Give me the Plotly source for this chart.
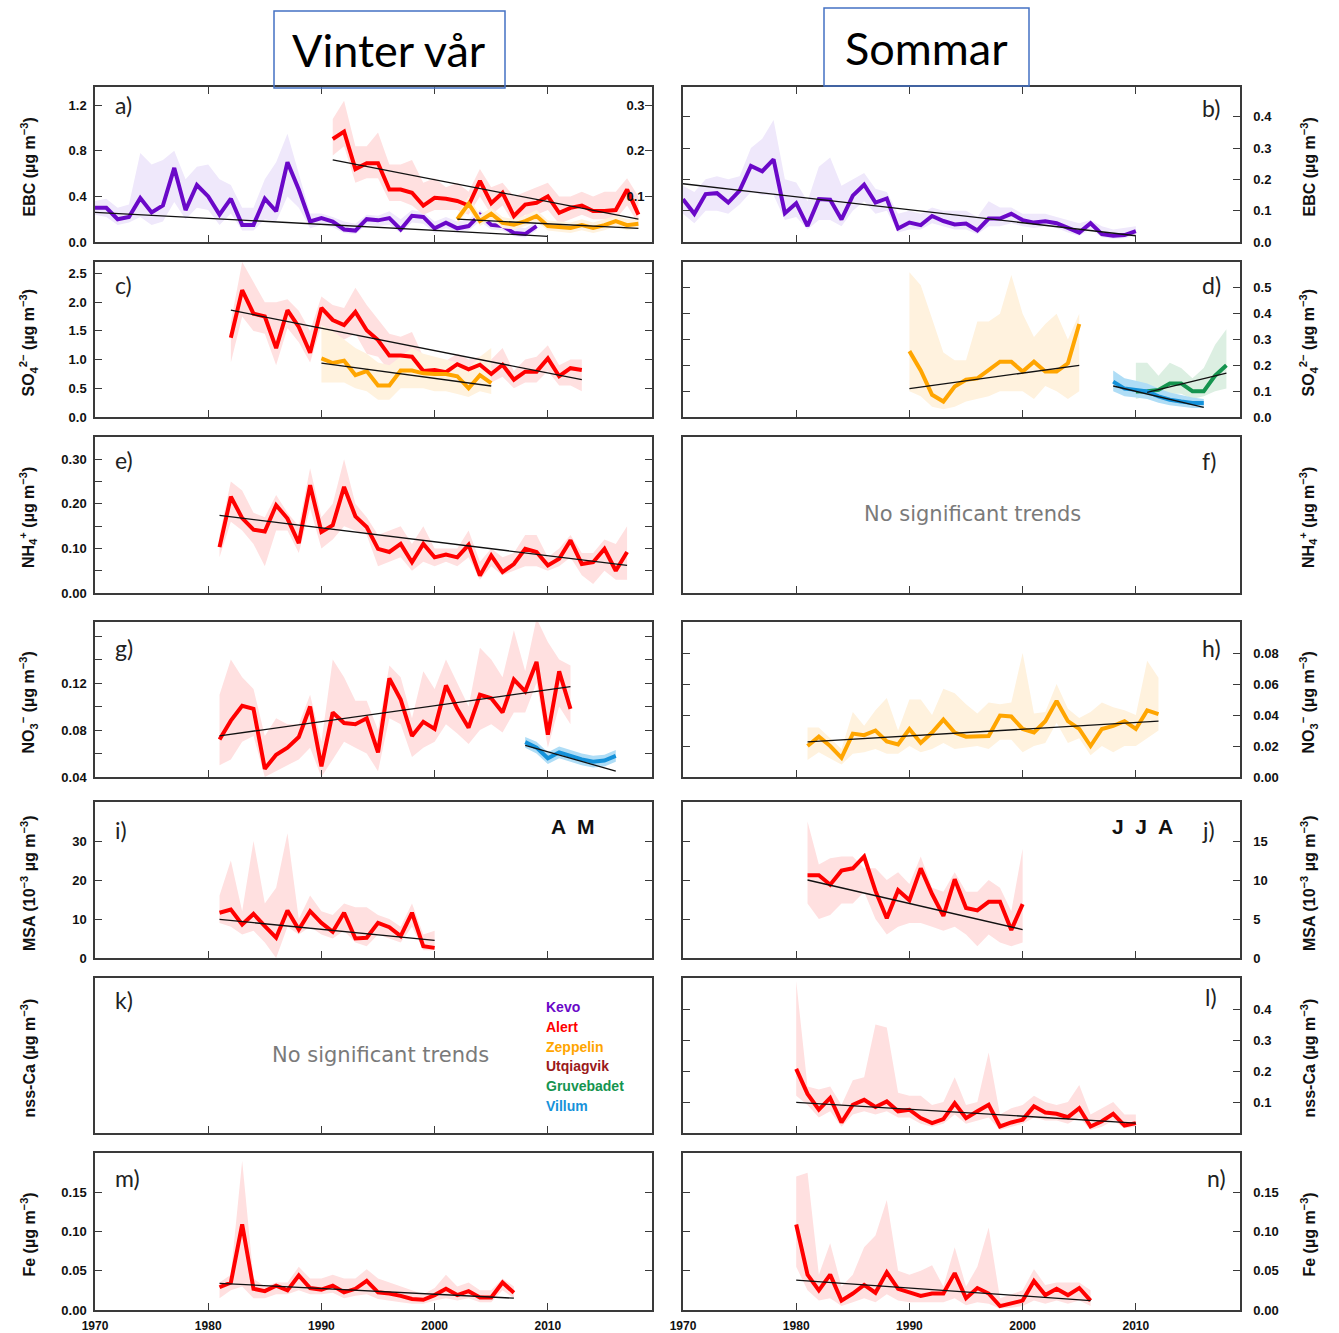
import plotly.graph_objects as go

W, H = 1339, 1333

# ================= DATA =================
# (a) EBC, winter/spring
kevo_ebc_win_start = 1970
kevo_ebc_win = [0.30,0.30,0.20,0.22,0.385,0.26,0.32,0.65,0.28,0.50,
                0.40,0.24,0.38,0.15,0.15,0.38,0.27,0.70,0.46,0.18,
                0.21,0.18,0.11,0.10,0.20,0.19,0.21,0.11,0.23,0.22,
                0.12,0.17,0.12,0.14,0.24,0.15,0.14,0.08,0.07,0.14]
kevo_ebc_win_hi = [0.36,0.38,0.30,0.33,0.78,0.68,0.72,0.80,0.55,0.66,
                   0.68,0.55,0.50,0.30,0.30,0.55,0.70,0.95,0.60,0.25,
                   0.25,0.22,0.18,0.16,0.24,0.23,0.27,0.20,0.28,0.26,
                   0.18,0.22,0.18,0.20,0.28,0.20,0.20,0.14,0.12,0.18]
kevo_ebc_win_lo = [0.24,0.22,0.15,0.17,0.22,0.15,0.18,0.35,0.20,0.30,
                   0.28,0.15,0.25,0.10,0.10,0.20,0.18,0.40,0.30,0.12,
                   0.15,0.13,0.08,0.07,0.15,0.14,0.15,0.08,0.17,0.16,
                   0.08,0.12,0.09,0.10,0.18,0.11,0.10,0.05,0.04,0.10]
kevo_ebc_win_trend = [0.26, 0.05]
kevo_ebc_win_trend_years = [1970, 2010]

alert_ebc_win_start = 1991
alert_ebc_win = [0.226,0.242,0.16,0.173,0.173,0.115,0.115,0.108,0.08,0.097,
                 0.095,0.09,0.08,0.134,0.085,0.108,0.057,0.082,0.086,0.10,
                 0.064,0.075,0.08,0.068,0.068,0.07,0.115,0.06]
alert_ebc_win_hi = [0.27,0.31,0.21,0.21,0.24,0.17,0.17,0.18,0.13,0.14,
                    0.12,0.13,0.11,0.16,0.12,0.13,0.10,0.11,0.12,0.13,
                    0.10,0.10,0.11,0.10,0.11,0.11,0.14,0.10]
alert_ebc_win_lo = [0.19,0.21,0.13,0.14,0.14,0.09,0.09,0.08,0.06,0.07,
                    0.07,0.07,0.06,0.10,0.06,0.08,0.04,0.06,0.06,0.07,
                    0.04,0.05,0.06,0.05,0.05,0.05,0.08,0.04]
alert_ebc_win_trend = [0.18, 0.05]
alert_ebc_win_trend_years = [1991, 2018]

zep_ebc_win_start = 2002
zep_ebc_win = [0.05,0.084,0.046,0.062,0.042,0.038,0.046,0.057,0.035,0.033,
               0.031,0.037,0.031,0.037,0.046,0.037,0.04]
zep_ebc_win_hi = [0.06,0.10,0.06,0.075,0.055,0.05,0.058,0.07,0.047,0.045,
                  0.043,0.05,0.043,0.05,0.058,0.05,0.052]
zep_ebc_win_lo = [0.04,0.07,0.035,0.05,0.03,0.028,0.035,0.045,0.025,0.022,
                  0.02,0.026,0.02,0.026,0.035,0.026,0.03]
zep_ebc_win_trend = [0.05, 0.03]
zep_ebc_win_trend_years = [2002, 2018]

# (b) EBC, summer
kevo_ebc_sum_start = 1970
kevo_ebc_sum = [0.137,0.09,0.153,0.156,0.126,0.164,0.243,0.226,0.264,0.092,
                0.124,0.051,0.137,0.135,0.072,0.148,0.183,0.126,0.139,0.043,
                0.062,0.054,0.083,0.067,0.056,0.059,0.037,0.075,0.075,0.09,
                0.07,0.062,0.066,0.06,0.045,0.03,0.06,0.025,0.02,0.022,
                0.035]
kevo_ebc_sum_hi = [0.18,0.16,0.20,0.21,0.20,0.21,0.30,0.33,0.39,0.20,
                   0.19,0.13,0.24,0.27,0.18,0.20,0.22,0.17,0.16,0.09,
                   0.10,0.09,0.11,0.10,0.10,0.10,0.08,0.13,0.11,0.11,
                   0.09,0.09,0.09,0.08,0.07,0.06,0.07,0.05,0.04,0.045,
                   0.05]
kevo_ebc_sum_lo = [0.09,0.06,0.10,0.10,0.09,0.12,0.16,0.15,0.15,0.07,
                   0.08,0.04,0.07,0.07,0.05,0.10,0.13,0.09,0.10,0.03,
                   0.04,0.04,0.06,0.05,0.04,0.04,0.025,0.05,0.05,0.06,
                   0.05,0.045,0.05,0.045,0.03,0.02,0.04,0.015,0.01,0.012,
                   0.02]
kevo_ebc_sum_trend = [0.186, 0.02]
kevo_ebc_sum_trend_years = [1970, 2010]

# (c) SO4, winter/spring
alert_so4_win_start = 1982
alert_so4_win = [1.38,2.21,1.80,1.75,1.20,1.86,1.57,1.12,1.90,1.69,
                 1.60,1.83,1.51,1.34,1.07,1.07,1.05,0.80,0.82,0.78,
                 0.92,0.83,0.91,0.75,0.91,0.65,0.79,0.79,1.02,0.71,
                 0.85,0.82]
alert_so4_win_hi = [1.65,2.70,2.35,2.00,2.00,2.05,1.85,1.50,2.10,1.95,
                    1.90,2.25,1.95,1.70,1.45,1.40,1.48,1.05,1.00,0.98,
                    1.10,1.00,1.05,1.00,1.20,0.80,1.00,1.05,1.25,0.90,
                    1.00,1.00]
alert_so4_win_lo = [0.95,1.75,1.50,1.45,0.90,1.55,1.30,0.95,1.60,1.45,
                    1.35,1.45,1.10,1.05,0.80,0.85,0.75,0.62,0.65,0.62,
                    0.75,0.68,0.75,0.60,0.70,0.50,0.60,0.60,0.80,0.55,
                    0.55,0.45]
alert_so4_win_trend = [1.86, 0.65]
alert_so4_win_trend_years = [1982, 2013]

zep_so4_win_start = 1990
zep_so4_win = [1.02,0.94,0.98,0.73,0.80,0.55,0.55,0.81,0.81,0.76,
               0.75,0.75,0.71,0.50,0.73,0.59]
zep_so4_win_hi = [1.60,1.50,1.35,1.20,1.10,0.95,0.90,1.05,1.20,1.10,
                  1.05,1.00,0.95,0.85,1.05,1.20]
zep_so4_win_lo = [0.60,0.60,0.60,0.50,0.45,0.30,0.30,0.50,0.50,0.50,
                  0.45,0.45,0.40,0.35,0.45,0.40]
zep_so4_win_trend = [0.94, 0.54]
zep_so4_win_trend_years = [1990, 2005]

# (d) SO4, summer
zep_so4_sum_start = 1990
zep_so4_sum = [0.255,0.18,0.086,0.06,0.118,0.144,0.15,0.18,0.214,0.214,
               0.176,0.214,0.176,0.176,0.208,0.36]
zep_so4_sum_hi = [0.56,0.51,0.38,0.25,0.22,0.22,0.37,0.37,0.40,0.55,
                  0.40,0.31,0.36,0.40,0.30,0.40]
zep_so4_sum_lo = [0.10,0.08,0.04,0.03,0.04,0.06,0.07,0.08,0.10,0.10,
                  0.10,0.07,0.12,0.10,0.07,0.10]
zep_so4_sum_trend = [0.11, 0.20]
zep_so4_sum_trend_years = [1990, 2005]

villum_so4_sum_start = 2008
villum_so4_sum = [0.137,0.11,0.105,0.099,0.08,0.067,0.06,0.054,0.054]
villum_so4_sum_hi = [0.18,0.15,0.14,0.13,0.11,0.095,0.085,0.075,0.07]
villum_so4_sum_lo = [0.10,0.08,0.075,0.07,0.055,0.045,0.04,0.035,0.035]
villum_so4_sum_trend = [0.12, 0.037]
villum_so4_sum_trend_years = [2008, 2016]

gruv_so4_sum_start = 2010
gruv_so4_sum = [0.099,0.10,0.105,0.13,0.13,0.10,0.10,0.16,0.20]
gruv_so4_sum_hi = [0.21,0.21,0.16,0.21,0.19,0.15,0.19,0.28,0.34]
gruv_so4_sum_lo = [0.07,0.08,0.07,0.09,0.09,0.07,0.08,0.10,0.11]
gruv_so4_sum_trend = [0.095, 0.17]
gruv_so4_sum_trend_years = [2011, 2018]

# (e) NH4, winter/spring
alert_nh4_win_start = 1981
alert_nh4_win = [0.103,0.216,0.168,0.142,0.138,0.197,0.167,0.112,0.242,0.137,
                 0.152,0.238,0.172,0.148,0.099,0.092,0.11,0.069,0.11,0.08,
                 0.086,0.08,0.108,0.039,0.084,0.047,0.065,0.099,0.092,0.062,
                 0.077,0.118,0.065,0.069,0.099,0.05,0.092]
alert_nh4_win_hi = [0.13,0.25,0.23,0.18,0.17,0.22,0.18,0.15,0.28,0.17,
                    0.20,0.30,0.20,0.17,0.13,0.14,0.15,0.11,0.15,0.10,
                    0.10,0.10,0.14,0.07,0.10,0.08,0.09,0.13,0.13,0.08,
                    0.10,0.13,0.09,0.09,0.12,0.11,0.15]
alert_nh4_win_lo = [0.08,0.16,0.14,0.11,0.06,0.14,0.14,0.09,0.19,0.10,
                    0.12,0.15,0.14,0.13,0.06,0.07,0.08,0.05,0.07,0.06,
                    0.07,0.06,0.08,0.03,0.06,0.04,0.05,0.06,0.06,0.05,
                    0.06,0.08,0.04,0.02,0.05,0.03,0.03]
alert_nh4_win_trend = [0.174, 0.062]
alert_nh4_win_trend_years = [1981, 2017]

# (g) NO3, winter/spring
alert_no3_win_start = 1981
alert_no3_win = [0.072,0.088,0.1006,0.098,0.047,0.059,0.065,0.074,0.10,0.049,
                 0.095,0.086,0.085,0.09,0.061,0.124,0.106,0.075,0.087,0.081,
                 0.118,0.098,0.082,0.110,0.107,0.095,0.123,0.113,0.138,0.076,
                 0.13,0.098]
alert_no3_win_hi = [0.11,0.14,0.125,0.115,0.075,0.09,0.085,0.085,0.11,0.07,
                    0.14,0.125,0.105,0.105,0.08,0.135,0.125,0.09,0.13,0.115,
                    0.14,0.12,0.10,0.15,0.14,0.125,0.165,0.13,0.175,0.155,
                    0.14,0.135]
alert_no3_win_lo = [0.05,0.055,0.07,0.075,0.04,0.045,0.05,0.055,0.065,0.04,
                    0.055,0.07,0.065,0.06,0.045,0.09,0.085,0.057,0.065,0.07,
                    0.085,0.077,0.068,0.08,0.085,0.078,0.095,0.095,0.12,0.065,
                    0.10,0.085]
alert_no3_win_trend = [0.075, 0.117]
alert_no3_win_trend_years = [1981, 2012]

villum_no3_win_start = 2008
villum_no3_win = [0.0697,0.065,0.056,0.061,0.058,0.055,0.053,0.054,0.058]
villum_no3_win_hi = [0.074,0.07,0.061,0.066,0.063,0.06,0.058,0.059,0.063]
villum_no3_win_lo = [0.065,0.06,0.051,0.056,0.053,0.05,0.048,0.049,0.053]
villum_no3_win_trend = [0.067, 0.045]
villum_no3_win_trend_years = [2008, 2016]

# (h) NO3, summer
zep_no3_sum_start = 1981
zep_no3_sum = [0.02,0.026,0.02,0.0124,0.028,0.027,0.03,0.023,0.021,0.031,
               0.022,0.0287,0.037,0.0287,0.026,0.026,0.0265,0.0396,0.039,0.031,
               0.0287,0.036,0.049,0.036,0.031,0.02,0.031,0.033,0.036,0.031,
               0.043,0.0406]
zep_no3_sum_hi = [0.032,0.032,0.025,0.018,0.042,0.033,0.043,0.051,0.03,0.05,
                  0.05,0.04,0.057,0.054,0.047,0.041,0.048,0.047,0.048,0.08,
                  0.041,0.042,0.06,0.044,0.038,0.042,0.048,0.045,0.043,0.04,
                  0.075,0.064]
zep_no3_sum_lo = [0.011,0.016,0.012,0.008,0.015,0.016,0.018,0.015,0.015,0.02,
                  0.016,0.018,0.022,0.018,0.019,0.02,0.018,0.024,0.024,0.016,
                  0.02,0.022,0.035,0.022,0.025,0.014,0.02,0.016,0.02,0.02,
                  0.025,0.03]
zep_no3_sum_trend = [0.0226, 0.036]
zep_no3_sum_trend_years = [1981, 2012]

# (i) MSA, winter/spring (AM)
alert_msa_win_start = 1981
alert_msa_win = [11.6,12.4,8.6,11.3,8.2,5.2,12.2,7.3,12.0,9.0,
                 6.7,11.6,5.0,5.2,9.0,7.9,5.6,11.6,3.0,2.6]
alert_msa_win_hi = [16,25,12,30,14,18,32,10,16,12,
                    11,14,13,13,11,10,8,14,6,7]
alert_msa_win_lo = [9,8,6,7,4,0,8,6,8,6,
                    5,7,4,3,6,5,4,8,2,2]
alert_msa_win_trend = [9.9, 4.5]
alert_msa_win_trend_years = [1981, 2000]

# (j) MSA, summer (JJA)
alert_msa_sum_start = 1981
alert_msa_sum = [10.6,10.6,9.4,11.2,11.5,13.0,8.6,5.1,8.7,7.4,
                 11.5,8.2,5.4,10.1,6.4,6.1,7.2,7.2,3.6,6.9]
alert_msa_sum_hi = [17.5,12,12.8,13,13,11.5,11.5,10,11,9.5,
                    13,9,8.5,11,8.5,8.5,10,9,6,14]
alert_msa_sum_lo = [7,5,5.5,7,7,8.5,5,3,4,4.5,
                    4.5,4,3.5,4,3,1.5,3,2,1.5,2]
alert_msa_sum_trend = [10.0, 3.65]
alert_msa_sum_trend_years = [1981, 2000]

# (l) nss-Ca, summer
alert_ca_sum_start = 1980
alert_ca_sum = [0.207,0.126,0.075,0.113,0.034,0.091,0.107,0.084,0.102,0.07,
                0.075,0.048,0.032,0.045,0.096,0.048,0.07,0.091,0.021,0.034,
                0.043,0.086,0.066,0.062,0.051,0.08,0.021,0.038,0.062,0.024,
                0.032]
alert_ca_sum_hi = [0.49,0.15,0.14,0.15,0.09,0.17,0.18,0.35,0.34,0.13,
                   0.12,0.12,0.09,0.10,0.18,0.09,0.10,0.26,0.06,0.08,
                   0.09,0.12,0.10,0.09,0.10,0.155,0.06,0.08,0.10,0.06,
                   0.06]
alert_ca_sum_lo = [0.12,0.09,0.05,0.07,0.02,0.06,0.07,0.06,0.07,0.05,
                   0.05,0.03,0.02,0.03,0.06,0.03,0.04,0.05,0.01,0.02,
                   0.03,0.05,0.04,0.04,0.03,0.05,0.01,0.02,0.04,0.015,
                   0.02]
alert_ca_sum_trend = [0.099, 0.032]
alert_ca_sum_trend_years = [1980, 2010]

# (m) Fe, winter/spring
alert_fe_win_start = 1981
alert_fe_win = [0.029,0.035,0.109,0.027,0.024,0.031,0.025,0.044,0.028,0.026,
                0.031,0.0225,0.027,0.037,0.0225,0.021,0.018,0.014,0.013,0.019,
                0.027,0.019,0.024,0.016,0.016,0.035,0.022]
alert_fe_win_hi = [0.035,0.045,0.19,0.04,0.03,0.035,0.035,0.055,0.04,0.04,
                   0.045,0.04,0.04,0.052,0.04,0.035,0.03,0.025,0.02,0.028,
                   0.045,0.03,0.035,0.025,0.025,0.04,0.03]
alert_fe_win_lo = [0.015,0.025,0.03,0.015,0.015,0.02,0.02,0.025,0.02,0.02,
                   0.022,0.015,0.018,0.02,0.014,0.012,0.01,0.008,0.008,0.012,
                   0.015,0.012,0.015,0.01,0.01,0.025,0.015]
alert_fe_win_trend = [0.034, 0.015]
alert_fe_win_trend_years = [1981, 2007]

# (n) Fe, summer
alert_fe_sum_start = 1980
alert_fe_sum = [0.109,0.045,0.025,0.045,0.012,0.021,0.032,0.022,0.048,0.027,
                0.0225,0.018,0.021,0.021,0.047,0.015,0.028,0.021,0.005,0.008,
                0.012,0.037,0.019,0.027,0.019,0.028,0.012]
alert_fe_sum_hi = [0.17,0.175,0.045,0.085,0.03,0.045,0.08,0.095,0.14,0.05,
                   0.045,0.05,0.057,0.03,0.08,0.03,0.055,0.105,0.015,0.02,
                   0.025,0.052,0.032,0.035,0.035,0.035,0.025]
alert_fe_sum_lo = [0.055,0.025,0.012,0.015,0.005,0.01,0.015,0.01,0.02,0.012,
                   0.01,0.01,0.01,0.01,0.015,0.006,0.01,0.008,0.002,0.003,
                   0.005,0.012,0.008,0.012,0.008,0.012,0.005]
alert_fe_sum_trend = [0.038, 0.012]
alert_fe_sum_trend_years = [1980, 2006]

# axis tick values / labels
panel_letters = ["a)", "b)", "c)", "d)", "e)", "f)", "g)", "h)", "i)", "j)", "k)", "l)", "m)", "n)"]
row_titles = ["EBC (µg m<sup>−3</sup>)",
              "SO<sub>4</sub><sup>2−</sup> (µg m<sup>−3</sup>)",
              "NH<sub>4</sub><sup>+</sup> (µg m<sup>−3</sup>)",
              "NO<sub>3</sub><sup>−</sup> (µg m<sup>−3</sup>)",
              "MSA (10<sup>−3</sup> µg m<sup>−3</sup>)",
              "nss-Ca (µg m<sup>−3</sup>)",
              "Fe (µg m<sup>−3</sup>)"]
year_ticks = [1970, 1980, 1990, 2000, 2010]
station_names = ["Kevo", "Alert", "Zeppelin", "Utqiagvik", "Gruvebadet", "Villum"]

# ================= STYLE =================
C = {
    "Kevo": ("#6A08C8", "#EFE8FB"),
    "Alert": ("#FF0000", "#FFE0E0"),
    "Zeppelin": ("#FFA500", "#FFF2DE"),
    "Utqiagvik": ("#9A1A1A", "#F0D0D0"),
    "Gruvebadet": ("#15944F", "#DCEFE2"),
    "Villum": ("#1592DA", "#AFDDF6"),
}

yspec = {
    0: ([0, 1.36], [0, 0.4, 0.8, 1.2], ["0.0", "0.4", "0.8", "1.2"], []),
    1: ([0, 0.495], [0, 0.1, 0.2, 0.3, 0.4], ["0.0", "0.1", "0.2", "0.3", "0.4"], []),
    2: ([0, 2.7], [0, 0.5, 1.0, 1.5, 2.0, 2.5], ["0.0", "0.5", "1.0", "1.5", "2.0", "2.5"], []),
    3: ([0, 0.6], [0, 0.1, 0.2, 0.3, 0.4, 0.5], ["0.0", "0.1", "0.2", "0.3", "0.4", "0.5"], []),
    4: ([0, 0.35], [0, 0.1, 0.2, 0.3], ["0.00", "0.10", "0.20", "0.30"], [0.05, 0.15, 0.25]),
    5: ([0, 1], [], [], []),
    6: ([0.04, 0.172], [0.04, 0.08, 0.12], ["0.04", "0.08", "0.12"], [0.06, 0.10, 0.14, 0.16]),
    7: ([0, 0.1], [0, 0.02, 0.04, 0.06, 0.08], ["0.00", "0.02", "0.04", "0.06", "0.08"], []),
    8: ([0, 40], [0, 10, 20, 30], ["0", "10", "20", "30"], []),
    9: ([0, 20], [0, 5, 10, 15], ["0", "5", "10", "15"], []),
    10: ([0, 1], [], [], []),
    11: ([0, 0.5], [0.1, 0.2, 0.3, 0.4], ["0.1", "0.2", "0.3", "0.4"], []),
    12: ([0, 0.2], [0, 0.05, 0.10, 0.15], ["0.00", "0.05", "0.10", "0.15"], []),
    13: ([0, 0.2], [0, 0.05, 0.10, 0.15], ["0.00", "0.05", "0.10", "0.15"], []),
}

row_px = [(87, 242), (262, 417), (437, 593), (622, 777), (802, 958), (978, 1133), (1153, 1310)]
col_px = [(95, 652), (683, 1240)]


def fx(px):
    return px / W


def fy(py):
    return 1 - py / H


def ax_ref(p):
    return ("x" if p == 0 else f"x{p+1}", "y" if p == 0 else f"y{p+1}")


series = [
    (0, None, "Kevo", kevo_ebc_win_start, kevo_ebc_win, kevo_ebc_win_lo, kevo_ebc_win_hi, kevo_ebc_win_trend_years, kevo_ebc_win_trend),
    (0, "y15", "Alert", alert_ebc_win_start, alert_ebc_win, alert_ebc_win_lo, alert_ebc_win_hi, alert_ebc_win_trend_years, alert_ebc_win_trend),
    (0, "y15", "Zeppelin", zep_ebc_win_start, zep_ebc_win, zep_ebc_win_lo, zep_ebc_win_hi, zep_ebc_win_trend_years, zep_ebc_win_trend),
    (1, None, "Kevo", kevo_ebc_sum_start, kevo_ebc_sum, kevo_ebc_sum_lo, kevo_ebc_sum_hi, kevo_ebc_sum_trend_years, kevo_ebc_sum_trend),
    (2, None, "Alert", alert_so4_win_start, alert_so4_win, alert_so4_win_lo, alert_so4_win_hi, alert_so4_win_trend_years, alert_so4_win_trend),
    (2, None, "Zeppelin", zep_so4_win_start, zep_so4_win, zep_so4_win_lo, zep_so4_win_hi, zep_so4_win_trend_years, zep_so4_win_trend),
    (3, None, "Zeppelin", zep_so4_sum_start, zep_so4_sum, zep_so4_sum_lo, zep_so4_sum_hi, zep_so4_sum_trend_years, zep_so4_sum_trend),
    (3, None, "Gruvebadet", gruv_so4_sum_start, gruv_so4_sum, gruv_so4_sum_lo, gruv_so4_sum_hi, gruv_so4_sum_trend_years, gruv_so4_sum_trend),
    (3, None, "Villum", villum_so4_sum_start, villum_so4_sum, villum_so4_sum_lo, villum_so4_sum_hi, villum_so4_sum_trend_years, villum_so4_sum_trend),
    (4, None, "Alert", alert_nh4_win_start, alert_nh4_win, alert_nh4_win_lo, alert_nh4_win_hi, alert_nh4_win_trend_years, alert_nh4_win_trend),
    (6, None, "Alert", alert_no3_win_start, alert_no3_win, alert_no3_win_lo, alert_no3_win_hi, alert_no3_win_trend_years, alert_no3_win_trend),
    (6, None, "Villum", villum_no3_win_start, villum_no3_win, villum_no3_win_lo, villum_no3_win_hi, villum_no3_win_trend_years, villum_no3_win_trend),
    (7, None, "Zeppelin", zep_no3_sum_start, zep_no3_sum, zep_no3_sum_lo, zep_no3_sum_hi, zep_no3_sum_trend_years, zep_no3_sum_trend),
    (8, None, "Alert", alert_msa_win_start, alert_msa_win, alert_msa_win_lo, alert_msa_win_hi, alert_msa_win_trend_years, alert_msa_win_trend),
    (9, None, "Alert", alert_msa_sum_start, alert_msa_sum, alert_msa_sum_lo, alert_msa_sum_hi, alert_msa_sum_trend_years, alert_msa_sum_trend),
    (11, None, "Alert", alert_ca_sum_start, alert_ca_sum, alert_ca_sum_lo, alert_ca_sum_hi, alert_ca_sum_trend_years, alert_ca_sum_trend),
    (12, None, "Alert", alert_fe_win_start, alert_fe_win, alert_fe_win_lo, alert_fe_win_hi, alert_fe_win_trend_years, alert_fe_win_trend),
    (13, None, "Alert", alert_fe_sum_start, alert_fe_sum, alert_fe_sum_lo, alert_fe_sum_hi, alert_fe_sum_trend_years, alert_fe_sum_trend),
]

fig = go.Figure()

# empty placeholder traces so that panels without data (f, k) are still drawn
for p in (5, 10):
    xr, yr = ax_ref(p)
    fig.add_trace(go.Scatter(x=[], y=[], mode="lines", showlegend=False, xaxis=xr, yaxis=yr))

for p, yo, st, start, vals, lo, hi, ty, tv in series:
    xr, yr = ax_ref(p)
    yr = yo or yr
    xs = list(range(start, start + len(hi)))
    fig.add_trace(go.Scatter(x=xs + xs[::-1], y=hi + lo[::-1], fill="toself",
                             fillcolor=C[st][1], line=dict(width=0), mode="lines",
                             hoverinfo="skip", showlegend=False, xaxis=xr, yaxis=yr))
for p, yo, st, start, vals, lo, hi, ty, tv in series:
    xr, yr = ax_ref(p)
    yr = yo or yr
    xs = list(range(start, start + len(vals)))
    fig.add_trace(go.Scatter(x=xs, y=vals, mode="lines", line=dict(color=C[st][0], width=4),
                             showlegend=False, name=st, xaxis=xr, yaxis=yr))
for p, yo, st, start, vals, lo, hi, ty, tv in series:
    xr, yr = ax_ref(p)
    yr = yo or yr
    fig.add_trace(go.Scatter(x=ty, y=tv, mode="lines", line=dict(color="#111111", width=1.3),
                             showlegend=False, hoverinfo="skip", xaxis=xr, yaxis=yr))

TICKFONT = dict(family="Liberation Sans, Arial, sans-serif", size=13, color="#111111", weight="bold")
LINEC = "#3a3a3a"

layout = dict(width=W, height=H, margin=dict(l=0, r=0, t=0, b=0, pad=0),
              paper_bgcolor="white", plot_bgcolor="white", showlegend=False)

for p in range(14):
    r, c = p // 2, p % 2
    x0, x1 = col_px[c]
    t, b = row_px[r]
    xname = "xaxis" if p == 0 else f"xaxis{p+1}"
    yname = "yaxis" if p == 0 else f"yaxis{p+1}"
    xr, yr = ax_ref(p)
    xd = dict(domain=[fx(x0), fx(x1)], anchor=yr, range=[1970, 2019.2],
              tickvals=year_ticks, ticks="inside", ticklen=7, tickcolor=LINEC, tickwidth=1,
              showline=True, linecolor=LINEC, linewidth=1.5,
              mirror="ticks" if r == 0 else True,
              showgrid=False, zeroline=False, showticklabels=(r == 6),
              automargin=False, fixedrange=True)
    if r == 6:
        xd["ticktext"] = [str(v) for v in year_ticks]
        xd["tickfont"] = dict(TICKFONT, size=12)
        xd["ticklabelstandoff"] = 4
    layout[xname] = xd
    rng, tv, tt, mn = yspec[p]
    empty = len(tv) == 0
    yd = dict(domain=[fy(b), fy(t)], anchor=xr, range=rng,
              side="left" if c == 0 else "right",
              showline=True, linecolor=LINEC, linewidth=1.5,
              showgrid=False, zeroline=False, automargin=False, fixedrange=True)
    if empty:
        yd.update(ticks="", mirror=True, showticklabels=False, tickvals=[])
    else:
        yd.update(tickvals=tv, ticktext=tt, ticks="inside", ticklen=7, tickcolor=LINEC,
                  tickwidth=1, mirror="ticks", tickfont=TICKFONT,
                  ticklabelstandoff=4 if c == 0 else 9)
        if mn:
            yd["minor"] = dict(tickvals=mn, ticks="inside", ticklen=7, tickcolor=LINEC,
                               tickwidth=1, showgrid=False)
    layout[yname] = yd

# secondary axis for Alert / Zeppelin in (a)
layout["yaxis15"] = dict(overlaying="y", anchor="x", side="right", range=[0, 0.34],
                         tickvals=[0, 0.1, 0.2, 0.3], ticktext=["0.0", "0.1", "0.2", "0.3"],
                         ticks="inside", ticklen=7, tickcolor=LINEC, ticklabelposition="inside",
                         showline=False, showgrid=False, zeroline=False, tickfont=TICKFONT,
                         automargin=False, fixedrange=True)

fig.update_layout(**layout)

ann = []
letter_pos = [(113, 105), (1200, 108), (113, 285), (1200, 285), (113, 460), (1200, 461),
              (113, 648), (1200, 648), (113, 830), (1200, 830), (113, 1000), (1203, 997),
              (113, 1178), (1205, 1178)]
for p, (lx, ly) in enumerate(letter_pos):
    ann.append(dict(x=fx(lx), y=fy(ly), xref="paper", yref="paper", text=panel_letters[p],
                    showarrow=False, xanchor="left", yanchor="middle",
                    font=dict(family="Lato, Open Sans, sans-serif", size=23, color="#222222")))
for r, title in enumerate(row_titles):
    t, b = row_px[r]
    yc = (t + b) / 2 + 3
    for xpx in (28, 1308):
        ann.append(dict(x=fx(xpx), y=fy(yc), xref="paper", yref="paper", text=title,
                        textangle=-90, showarrow=False, xanchor="center", yanchor="middle",
                        font=dict(family="Liberation Sans, Arial, sans-serif", size=16,
                                  color="#111111", weight="bold")))
for (tx, ty) in [(972, 514), (380, 1055)]:
    ann.append(dict(x=fx(tx), y=fy(ty), xref="paper", yref="paper", text="No significant trends",
                    showarrow=False, xanchor="center", yanchor="middle",
                    font=dict(family="DejaVu Sans", size=21, color="#7a7a7a")))
ann.append(dict(x=fx(573), y=fy(827), xref="paper", yref="paper", text="A  M", showarrow=False,
                xanchor="center", yanchor="middle",
                font=dict(family="Liberation Sans, Arial, sans-serif", size=21, color="#111111", weight="bold")))
ann.append(dict(x=fx(1142), y=fy(827), xref="paper", yref="paper", text="J  J  A", showarrow=False,
                xanchor="center", yanchor="middle",
                font=dict(family="Liberation Sans, Arial, sans-serif", size=21, color="#111111", weight="bold")))
for i, name in enumerate(station_names):
    ann.append(dict(x=fx(544), y=fy(1007 + i * 19.8), xref="paper", yref="paper", text=name,
                    showarrow=False, xanchor="left", yanchor="middle",
                    font=dict(family="Liberation Sans, Arial, sans-serif", size=14,
                              color=C[name][0], weight="bold")))
ann.append(dict(x=fx(389.5), y=fy(50), xref="paper", yref="paper", text="Vinter vår", showarrow=False,
                xanchor="center", yanchor="middle",
                font=dict(family="Lato, Open Sans, sans-serif", size=45, color="#000000")))
ann.append(dict(x=fx(926.5), y=fy(48), xref="paper", yref="paper", text="Sommar", showarrow=False,
                xanchor="center", yanchor="middle",
                font=dict(family="Lato, Open Sans, sans-serif", size=45, color="#000000")))

shapes = [
    dict(type="rect", xref="paper", yref="paper", x0=fx(274), x1=fx(505), y0=fy(88), y1=fy(11),
         line=dict(color="#4472C4", width=1.5)),
    dict(type="rect", xref="paper", yref="paper", x0=fx(824), x1=fx(1029), y0=fy(86), y1=fy(8),
         line=dict(color="#4472C4", width=1.5)),
]
fig.update_layout(annotations=ann, shapes=shapes)

fig.write_html("out.html", config={"displayModeBar": False},
               post_script="document.body.style.margin='0px';document.body.style.overflow='hidden';")
